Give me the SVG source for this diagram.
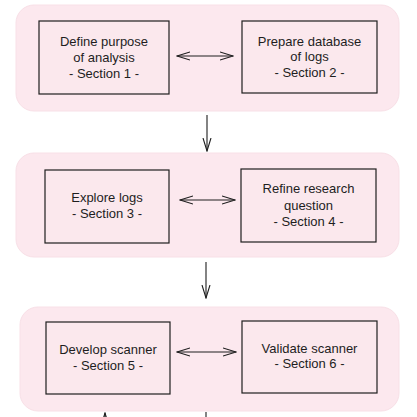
<svg xmlns="http://www.w3.org/2000/svg" width="417" height="417" viewBox="0 0 417 417">
<defs>
<style>
.group{fill:#fce8ee;stroke:#f8e0e7;stroke-width:1}
.box{fill:#fbe8ed;stroke:#1e1e1e;stroke-width:1.2}
.lbl{font-family:"Liberation Sans",Arial,sans-serif;font-size:13px;fill:#1e1e1e;text-anchor:middle}
.conn{fill:none;stroke:#1e1e1e;stroke-width:1.1}
</style>
<marker id="head" viewBox="0 0 14 10" refX="13" refY="5" markerWidth="14" markerHeight="10" markerUnits="userSpaceOnUse" orient="auto-start-reverse">
<polyline points="0,1 13,5 0,9" fill="none" stroke="#1e1e1e" stroke-width="1.1"/>
</marker>
</defs>
<rect width="417" height="417" fill="#ffffff"/>
<g id="stage1">
<rect class="group" x="16" y="5" width="383" height="106" rx="18"/>
</g>
<g id="stage2">
<rect class="group" x="16" y="153" width="383" height="104" rx="18"/>
</g>
<g id="stage3">
<rect class="group" x="20" y="307" width="379" height="104" rx="18"/>
</g>
<g id="node1">
<rect class="box" x="39" y="21" width="130" height="73"/>
<text class="lbl" x="104" y="46">Define purpose</text>
<text class="lbl" x="104" y="62">of analysis</text>
<text class="lbl" x="104" y="78">- Section 1 -</text>
</g>
<g id="node2">
<rect class="box" x="242" y="21" width="135" height="72"/>
<text class="lbl" x="309.5" y="46">Prepare database</text>
<text class="lbl" x="309.5" y="61">of logs</text>
<text class="lbl" x="309.5" y="77">- Section 2 -</text>
</g>
<g id="node3">
<rect class="box" x="45" y="170" width="124" height="73"/>
<text class="lbl" x="107" y="202">Explore logs</text>
<text class="lbl" x="107" y="218">- Section 3 -</text>
</g>
<g id="node4">
<rect class="box" x="241" y="169" width="135" height="73"/>
<text class="lbl" x="308.5" y="193">Refine research</text>
<text class="lbl" x="308.5" y="210">question</text>
<text class="lbl" x="308.5" y="226">- Section 4 -</text>
</g>
<g id="node5">
<rect class="box" x="46" y="322" width="124" height="72"/>
<text class="lbl" x="108" y="354">Develop scanner</text>
<text class="lbl" x="108" y="370">- Section 5 -</text>
</g>
<g id="node6">
<rect class="box" x="242" y="321" width="135" height="72"/>
<text class="lbl" x="309.5" y="353">Validate scanner</text>
<text class="lbl" x="309.5" y="368">- Section 6 -</text>
</g>
<g id="connectors">
<line class="conn" x1="177" y1="56" x2="233" y2="56" marker-start="url(#head)" marker-end="url(#head)"/>
<line class="conn" x1="180" y1="200" x2="235" y2="200" marker-start="url(#head)" marker-end="url(#head)"/>
<line class="conn" x1="177" y1="352" x2="236" y2="352" marker-start="url(#head)" marker-end="url(#head)"/>
<line class="conn" x1="207" y1="115" x2="207" y2="151" marker-end="url(#head)"/>
<line class="conn" x1="206" y1="262" x2="206" y2="298" marker-end="url(#head)"/>
<line class="conn" x1="105" y1="430" x2="105" y2="413" marker-end="url(#head)"/>
<line class="conn" x1="206" y1="412" x2="206" y2="417"/>
</g>
</svg>
